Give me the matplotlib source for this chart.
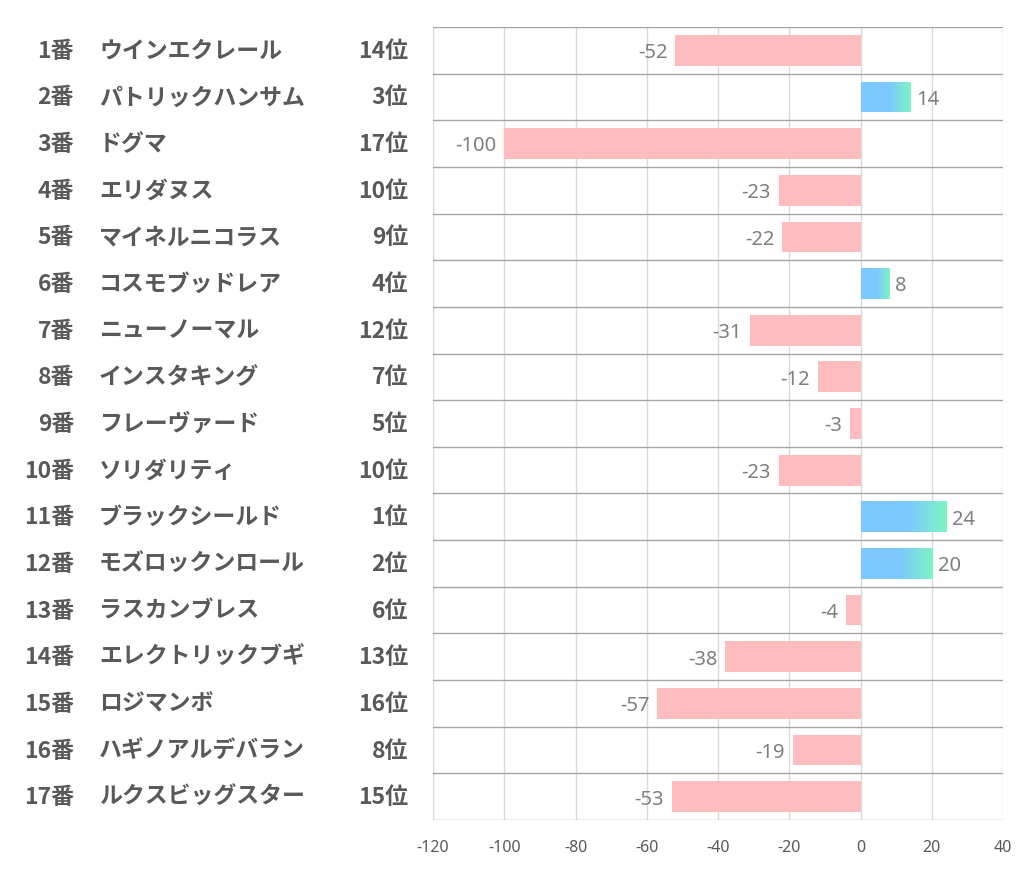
import numpy as np
import matplotlib
matplotlib.use("Agg")
from matplotlib import pyplot as plt
from matplotlib.colors import LinearSegmentedColormap
from matplotlib.transforms import blended_transform_factory

plt.rcParams['font.family'] = ['Noto Sans CJK JP', 'DejaVu Sans']
plt.rcParams['axes.unicode_minus'] = False

numbers = ["1番", "2番", "3番", "4番", "5番", "6番", "7番", "8番", "9番", "10番",
           "11番", "12番", "13番", "14番", "15番", "16番", "17番"]
names = ["ウインエクレール", "パトリックハンサム", "ドグマ", "エリダヌス", "マイネルニコラス",
         "コスモブッドレア", "ニューノーマル", "インスタキング", "フレーヴァード", "ソリダリティ",
         "ブラックシールド", "モズロックンロール", "ラスカンブレス", "エレクトリックブギ",
         "ロジマンボ", "ハギノアルデバラン", "ルクスビッグスター"]
ranks = ["14位", "3位", "17位", "10位", "9位", "4位", "12位", "7位", "5位", "10位",
         "1位", "2位", "6位", "13位", "16位", "8位", "15位"]
values = [-52, 14, -100, -23, -22, 8, -31, -12, -3, -23, 24, 20, -4, -38, -57, -19, -53]
xticks = [-120, -100, -80, -60, -40, -20, 0, 20, 40]

fig = plt.figure(figsize=(10.22, 8.87), dpi=100)
ax = fig.add_axes([433 / 1022, 1 - 821 / 887, 570 / 1022, 793 / 887])

n = len(values)
ys = np.arange(n)
bar_h = 0.66
pink = "#FFBCBF"
grad = LinearSegmentedColormap.from_list(
    "bg", [(0, "#7CC8FF"), (0.55, "#7CC8FF"), (1, "#7EF5C2")])

bars = ax.barh(ys, values, height=bar_h, color=pink, zorder=2)
for b, v, y in zip(bars, values, ys):
    if v > 0:
        b.set_facecolor("none")
        im = ax.imshow(np.linspace(0, 1, 256).reshape(1, -1), cmap=grad, aspect="auto",
                       extent=(0, v, y + bar_h / 2, y - bar_h / 2), zorder=2)
        im.set_clip_path(b)
        ax.text(v + 1.7, y + 0.04, str(v), ha="left", va="center",
                fontsize=14.5, color="#7F7F7F", family=["Noto Sans", "DejaVu Sans"])
    else:
        ax.text(v - 2.2, y + 0.04, str(v), ha="right", va="center",
                fontsize=14.5, color="#7F7F7F", family=["Noto Sans", "DejaVu Sans"])

ax.set_xlim(-120, 40)
ax.set_ylim(n - 0.5, -0.5)
ax.set_xticks(xticks)
ax.set_yticks([])
ax.tick_params(axis="x", length=0, pad=14, labelsize=11.5, labelcolor="#595959")
for lab in ax.get_xticklabels():
    lab.set_family(["Noto Sans", "DejaVu Sans"])
for x in xticks:
    ax.axvline(x, color="#D9D9D9", lw=1, zorder=1)
for k in range(n + 1):
    ax.axhline(k - 0.5, color="#A6A6A6", lw=1, zorder=1)
for s in ax.spines.values():
    s.set_visible(False)

tr = blended_transform_factory(fig.transFigure, ax.transData)
for y, num, name, rk in zip(ys, numbers, names, ranks):
    ax.text(74 / 1022, y, num, transform=tr, ha="right", va="center",
            fontsize=16.5, fontweight="bold", color="#595959")
    ax.text(99 / 1022, y, name, transform=tr, ha="left", va="center",
            fontsize=16.5, fontweight="bold", color="#595959")
    ax.text(408 / 1022, y, rk, transform=tr, ha="right", va="center",
            fontsize=16.5, fontweight="bold", color="#595959")

fig.savefig("out.png", dpi=100, facecolor="white")
